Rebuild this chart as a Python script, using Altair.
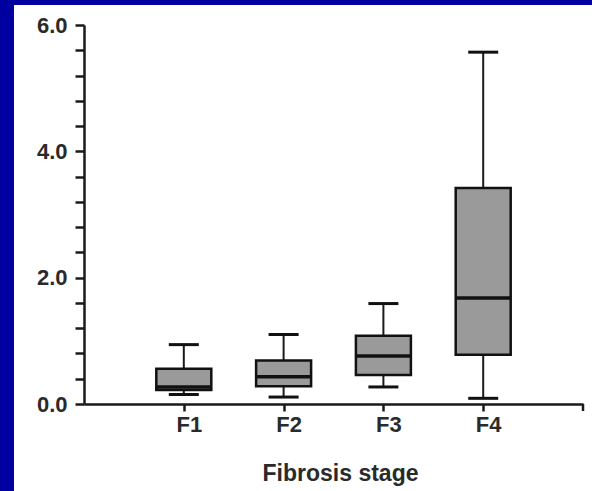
import altair as alt
import pandas as pd

stages = ["F1", "F2", "F3", "F4"]
whisker_low = [0.15, 0.11, 0.27, 0.09]
q1 = [0.22, 0.28, 0.46, 0.78]
median = [0.27, 0.43, 0.76, 1.68]
q3 = [0.56, 0.69, 1.08, 3.42]
whisker_high = [0.94, 1.10, 1.59, 5.57]

y_ticks = [0.0, 0.4, 0.8, 1.2, 1.6, 2.0, 2.4, 2.8, 3.2, 3.6, 4.0,
           4.4, 4.8, 5.2, 5.6, 6.0]

df = pd.DataFrame({
    "stage": stages,
    "lo": whisker_low,
    "q1": q1,
    "med": median,
    "q3": q3,
    "hi": whisker_high,
})

W, H = 499, 379
FONT = "Liberation Sans"
INK = "#1a1a1a"

xscale = alt.Scale(type="point", domain=stages, padding=1)
yscale = alt.Scale(domain=[0, 6], nice=False, zero=True)

x_axis = alt.Axis(
    title="Fibrosis stage", zindex=1,
    labelFont=FONT, labelFontSize=22, labelFontWeight="bold", labelColor="#2a2a2a",
    labelAngle=0, labelOffset=5, labelPadding=3,
    tickSize=7, tickWidth=2.5, tickColor=INK,
    domainColor=INK, domainWidth=2.5,
    titleFont=FONT, titleFontSize=23, titleFontWeight="bold", titleColor="#2a2a2a",
    titleBaseline="alphabetic", titleY=76, titleX=256, titleAnchor="middle",
    grid=False,
)
y_axis = alt.Axis(
    title=None, values=y_ticks, zindex=1, labelOverlap=False,
    labelExpr="datum.value % 2 == 0 ? format(datum.value, '.1f') : ''",
    labelFont=FONT, labelFontSize=22, labelFontWeight="bold", labelColor="#2a2a2a",
    labelPadding=8, tickSize=9, tickWidth=2.5, tickColor=INK,
    domainColor=INK, domainWidth=2.5, grid=False,
)

panel_df = pd.DataFrame({"k": [0]})
panel = alt.Chart(panel_df).mark_rect(color="white").encode(
    x=alt.value(-70), x2=alt.value(W + 9), y=alt.value(-20), y2=alt.value(H + 87)
)

base = alt.Chart(df)
X = alt.X("stage:N", scale=xscale, axis=x_axis, sort=stages)


def Y(field):
    return alt.Y(field, scale=yscale, axis=y_axis)


whisk = base.mark_rule(color=INK, strokeWidth=2).encode(x=X, y=Y("lo:Q"), y2="hi:Q")
box = base.mark_bar(size=55, color="#9a9a9a", stroke="#111111", strokeWidth=2.5).encode(
    x=X, y=Y("q1:Q"), y2="q3:Q"
)
med = base.mark_tick(size=55, thickness=3.5, color="#111111", opacity=1).encode(
    x=X, y=Y("med:Q")
)
cap_hi = base.mark_tick(size=30, thickness=3, color="#111111", opacity=1).encode(
    x=X, y=Y("hi:Q")
)
cap_lo = base.mark_tick(size=30, thickness=3, color="#111111", opacity=1).encode(
    x=X, y=Y("lo:Q")
)
end_tick = alt.Chart(panel_df).mark_rule(color=INK, strokeWidth=2.5).encode(
    x=alt.value(W), y=alt.value(H), y2=alt.value(H + 7)
)

chart = alt.layer(panel, whisk, box, med, cap_hi, cap_lo, end_tick).properties(
    width=W, height=H,
    autosize=alt.AutoSizeParams(type="none"),
    padding={"left": 84, "top": 25, "right": 9, "bottom": 87},
    background="#0000a0",
).configure_view(stroke=None)

chart.save("out.html", embed_options={"renderer": "svg", "actions": False})
